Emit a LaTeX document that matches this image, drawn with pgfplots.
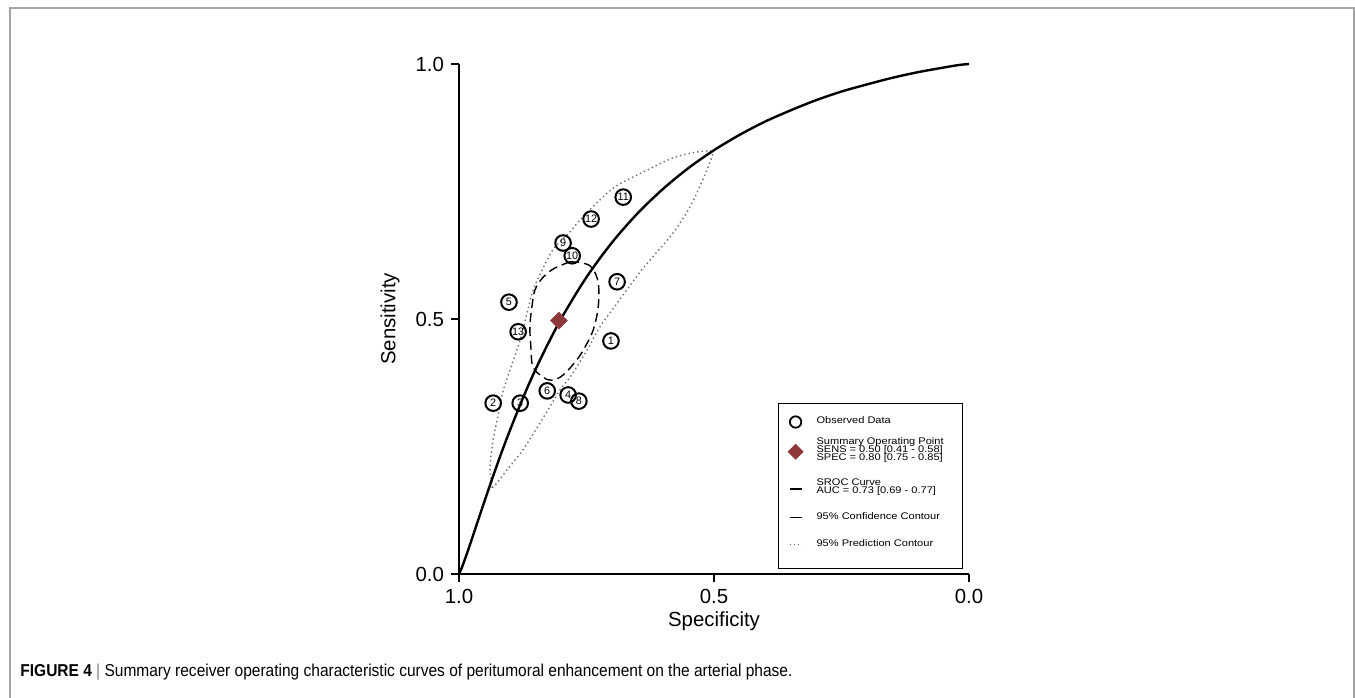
\documentclass[border=0pt]{standalone}
\usepackage{pgfplots}
\pgfplotsset{compat=1.18}
\usepackage{fontspec}
\setmainfont{Liberation Sans}
\newfontfamily\legfont[FakeStretch=1.15]{Liberation Sans}
\usepackage{graphicx}
\definecolor{sumred}{RGB}{142,56,60}
\definecolor{framegray}{RGB}{165,165,165}
\definecolor{predgray}{RGB}{110,110,110}
\newcommand{\lentry}[2]{\vbox to #1{\vss\hbox{#2}\vss}}
\newcommand{\lines}[1]{\vbox{\baselineskip=3.9pt\lineskiplimit=-\maxdimen #1}}
\begin{document}
\begin{tikzpicture}
\useasboundingbox (0,0) rectangle (677.5pt,348.5pt);
\draw[framegray, line width=1pt] (4.75pt,-3pt) -- (4.75pt,344.25pt) -- (677pt,344.25pt) -- (677pt,-3pt);
\begin{axis}[
  at={(229.5pt,61.5pt)}, anchor=south west,
  scale only axis, width=255pt, height=255pt,
  xmin=0, xmax=1, ymin=0, ymax=1, x dir=reverse,
  clip=false,
  axis x line*=bottom, axis y line*=left,
  axis line style={line width=0.6pt, black, -},
  xtick={0,0.5,1}, ytick={0,0.5,1},
  xticklabels={0.0,0.5,1.0}, yticklabels={0.0,0.5,1.0},
  tick align=outside, major tick length=4pt,
  tick style={line width=0.6pt, black},
  ticklabel style={font=\fontsize{10.2}{12}\selectfont},
  xlabel={Specificity}, ylabel={Sensitivity},
  every axis x label/.style={at={(axis description cs:0.5,-0.092)}, anchor=center, font=\fontsize{10.2}{12}\selectfont},
  every axis y label/.style={at={(axis description cs:-0.135,0.5)}, anchor=center, rotate=90, font=\fontsize{10.2}{12}\selectfont},
  legend cell align=left,
  legend style={at={(axis description cs:0.6255,0.3353)}, anchor=north west,
    draw=black, line width=0.6pt, fill=white,
    inner xsep=4.5pt, inner ysep=5.3pt, row sep=0pt,
    font=\legfont\fontsize{4.8}{3.9}\selectfont,
    nodes={inner sep=0pt}, cells={anchor=west, inner sep=0pt},
    /tikz/every odd column/.append style={column sep=6.5pt}},
]
% observed data
\addplot[forget plot, only marks, mark=o, mark size=3.9pt,
  mark options={line width=1pt, black},
  nodes near coords, point meta=explicit symbolic,
  nodes near coords style={anchor=center, inner sep=0pt, font=\fontsize{5.4}{6}\selectfont}]
  table[meta=lab]{
x y lab
0.702 0.457 1
0.933 0.335 2
0.880 0.335 3
0.786 0.351 4
0.902 0.533 5
0.827 0.359 6
0.690 0.573 7
0.765 0.339 8
0.796 0.649 9
0.778 0.624 10
0.678 0.739 11
0.741 0.696 12
0.884 0.475 13
};
% summary point
\addplot[forget plot, only marks, mark=square*, mark size=2.9pt,
  mark options={rotate=45, fill=sumred, draw=sumred}]
  coordinates {(0.804,0.497)};
% prediction contour
\addplot[forget plot, predgray, line width=0.7pt, dash pattern=on 0.7pt off 1.5pt, smooth, tension=0.5]
coordinates {
(0.935,0.169) (0.939,0.210) (0.933,0.263) (0.924,0.308) (0.914,0.357)
(0.900,0.400) (0.880,0.459) (0.865,0.518) (0.853,0.561) (0.827,0.616)
(0.812,0.641) (0.782,0.671) (0.763,0.694) (0.720,0.737) (0.688,0.763)
(0.631,0.792) (0.580,0.816) (0.537,0.827) (0.506,0.829) (0.504,0.818)
(0.522,0.773) (0.547,0.720) (0.580,0.669) (0.620,0.622) (0.645,0.592)
(0.690,0.531) (0.724,0.484) (0.749,0.439) (0.782,0.386) (0.802,0.361)
(0.835,0.306) (0.875,0.243) (0.906,0.204) (0.924,0.180) (0.935,0.169)
};
% confidence contour
\addplot[forget plot, black, line width=0.7pt, dash pattern=on 4.5pt off 2.5pt, smooth, tension=0.6]
coordinates {
(0.782,0.612) (0.757,0.610) (0.739,0.600) (0.727,0.571) (0.727,0.524)
(0.737,0.478) (0.753,0.445) (0.769,0.420) (0.796,0.390) (0.818,0.380)
(0.835,0.386) (0.855,0.406) (0.859,0.445) (0.861,0.484) (0.857,0.524)
(0.851,0.557) (0.835,0.582) (0.812,0.600) (0.782,0.612)
};
% SROC curve
\addplot[forget plot, black, line width=1.2pt, smooth]
coordinates {
(1,0) (0.995,0.0111) (0.99,0.0244) (0.98,0.0531) (0.96,0.113) (0.94,0.172)
(0.92,0.229) (0.90,0.282) (0.87,0.356) (0.84,0.422) (0.80,0.500)
(0.75,0.582) (0.70,0.650) (0.65,0.707) (0.60,0.755) (0.55,0.796)
(0.50,0.831) (0.45,0.861) (0.40,0.887) (0.35,0.909) (0.30,0.929)
(0.25,0.946) (0.20,0.960) (0.15,0.973) (0.10,0.984) (0.05,0.993)
(0.02,0.998) (0,1)
};
% legend
\addlegendimage{legend image code/.code={\path[draw=none,fill=none] (-4pt,-2pt) rectangle (4pt,2pt); \draw[black, line width=0.9pt, fill=none] (0pt,0pt) circle (2.85pt);}}
\addlegendentry{\lentry{6.3pt}{Observed Data}}
\addlegendimage{legend image code/.code={\path[draw=none,fill=none] (-4pt,-2pt) rectangle (4pt,2pt); \fill[sumred, draw=none] (0pt,4pt) -- (4pt,0pt) -- (0pt,-4pt) -- (-4pt,0pt) -- cycle;}}
\addlegendentry{\lentry{20.5pt}{\lines{\hbox{Summary Operating Point\kern5pt}\hbox{SENS = 0.50 [0.41 - 0.58]}\hbox{SPEC = 0.80 [0.75 - 0.85]}}}}
\addlegendimage{legend image code/.code={\path[draw=none,fill=none] (-4pt,-2pt) rectangle (4pt,2pt); \draw[black, line width=1.2pt] (-3pt,0pt) -- (3pt,0pt);}}
\addlegendentry{\lentry{13.5pt}{\lines{\hbox{SROC Curve}\hbox{AUC = 0.73 [0.69 - 0.77]}}}}
\addlegendimage{legend image code/.code={\path[draw=none,fill=none] (-4pt,-2pt) rectangle (4pt,2pt); \draw[black, line width=0.75pt] (-3pt,0pt) -- (3pt,0pt);}}
\addlegendentry{\lentry{12.1pt}{95\% Confidence Contour}}
\addlegendimage{legend image code/.code={\path[draw=none,fill=none] (-4pt,-2pt) rectangle (4pt,2pt); \draw[predgray, line width=0.6pt, dash pattern=on 0.6pt off 1.4pt] (-3pt,0pt) -- (3pt,0pt);}}
\addlegendentry{\lentry{12pt}{95\% Prediction Contour}}
\end{axis}
\node[anchor=west, inner sep=0pt] at (10pt,12.5pt) {\resizebox{386pt}{\height}{\fontsize{8.6}{10}\selectfont\textbf{FIGURE 4}\ {\color{gray}|}\ Summary receiver operating characteristic curves of peritumoral enhancement on the arterial phase.}};
\end{tikzpicture}
\end{document}
